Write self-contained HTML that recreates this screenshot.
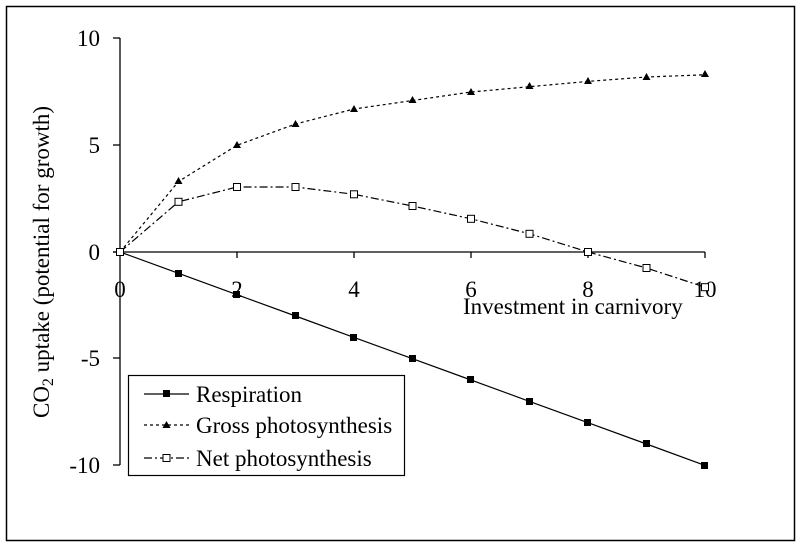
<!DOCTYPE html>
<html><head><meta charset="utf-8"><style>body{margin:0;background:#fff}</style></head><body>
<svg width="801" height="546" xmlns="http://www.w3.org/2000/svg" font-family="Liberation Serif, serif" font-size="23">
<rect x="6.5" y="6.5" width="788" height="534" fill="none" stroke="#000" stroke-width="1.5"/>
<g stroke="#000" stroke-width="1.3">
<line x1="120" y1="38" x2="120" y2="465"/>
<line x1="113" y1="38" x2="120" y2="38"/><line x1="113" y1="145" x2="120" y2="145"/>
<line x1="113" y1="252" x2="120" y2="252"/><line x1="113" y1="358" x2="120" y2="358"/><line x1="113" y1="465" x2="120" y2="465"/>
<line x1="113" y1="252" x2="705" y2="252"/>
<line x1="237" y1="252" x2="237" y2="258"/><line x1="354" y1="252" x2="354" y2="258"/><line x1="471" y1="252" x2="471" y2="258"/><line x1="588" y1="252" x2="588" y2="258"/><line x1="705" y1="252" x2="705" y2="258"/>
</g>
<g text-anchor="end"><text x="100" y="46">10</text><text x="100" y="153">5</text><text x="100" y="260">0</text><text x="100" y="366">-5</text><text x="100" y="473">-10</text></g>
<g text-anchor="middle"><text x="120" y="297">0</text><text x="237" y="297">2</text><text x="354" y="297">4</text><text x="471" y="297">6</text><text x="588" y="297">8</text><text x="705" y="297">10</text></g>
<text x="463" y="314">Investment in carnivory</text>
<text transform="translate(49,262) rotate(-90)" text-anchor="middle">CO<tspan font-size="16" dy="4">2</tspan><tspan dy="-4"> uptake (potential for growth)</tspan></text>
<polyline fill="none" stroke="#000" stroke-width="1.2" points="120,252 178.5,273.3 237,294.7 295.5,316 354,337.4 412.5,358.7 471,380 529.5,401.4 588,422.7 646.5,444 705,465.4"/>
<polyline fill="none" stroke="#000" stroke-width="1.2" stroke-dasharray="3,3" points="120,252 178.5,181.5 237,145.3 295.5,124 354,109 412.5,100.5 471,92 529.5,86.7 588,81.4 646.5,77 705,74.8"/>
<polyline fill="none" stroke="#000" stroke-width="1.2" stroke-dasharray="8,3,2,3" points="120,252 178.5,201.8 237,187 295.5,187 354,194.3 412.5,206 471,218.8 529.5,233.8 588,252 646.5,268 705,287.2"/>
<g fill="#000">
<rect x="116" y="248" width="7" height="7"/><rect x="175" y="270" width="7" height="7"/><rect x="233" y="291" width="7" height="7"/><rect x="292" y="312" width="7" height="7"/><rect x="350" y="334" width="7" height="7"/><rect x="409" y="355" width="7" height="7"/><rect x="467" y="376" width="7" height="7"/><rect x="526" y="398" width="7" height="7"/><rect x="584" y="419" width="7" height="7"/><rect x="643" y="440" width="7" height="7"/><rect x="701" y="462" width="7" height="7"/>
<path d="M178.5,177l4,7h-8z M237,141l4,7h-8z M295.5,120l4,7h-8z M354,105l4,7h-8z M412.5,96l4,7h-8z M471,88l4,7h-8z M529.5,82l4,7h-8z M588,77l4,7h-8z M646.5,73l4,7h-8z M705,70l4,7h-8z"/>
</g>
<g fill="#fff" stroke="#000" stroke-width="1">
<rect x="116.5" y="248.5" width="7" height="7"/><rect x="175" y="198.3" width="7" height="7"/><rect x="233.5" y="183.5" width="7" height="7"/><rect x="292" y="183.5" width="7" height="7"/><rect x="350.5" y="190.8" width="7" height="7"/><rect x="409" y="202.5" width="7" height="7"/><rect x="467.5" y="215.3" width="7" height="7"/><rect x="526" y="230.3" width="7" height="7"/><rect x="584.5" y="248.5" width="7" height="7"/><rect x="643" y="264.5" width="7" height="7"/><rect x="701.5" y="283.7" width="7" height="7"/>
</g>
<rect x="128.5" y="375.5" width="276" height="100" fill="#fff" stroke="#000" stroke-width="1.2"/>
<line x1="144" y1="394" x2="189" y2="394" stroke="#000" stroke-width="1.2"/><rect x="163" y="390" width="7" height="7"/>
<line x1="144" y1="425" x2="189" y2="425" stroke="#000" stroke-width="1.2" stroke-dasharray="3,3"/><path d="M166.5,421l4,7h-8z"/>
<line x1="144" y1="458" x2="189" y2="458" stroke="#000" stroke-width="1.2" stroke-dasharray="8,3,2,3"/><rect x="163" y="454.5" width="7" height="7" fill="#fff" stroke="#000"/>
<text x="196" y="402">Respiration</text>
<text x="196" y="433">Gross photosynthesis</text>
<text x="196" y="466">Net photosynthesis</text>
</svg>
</body></html>
